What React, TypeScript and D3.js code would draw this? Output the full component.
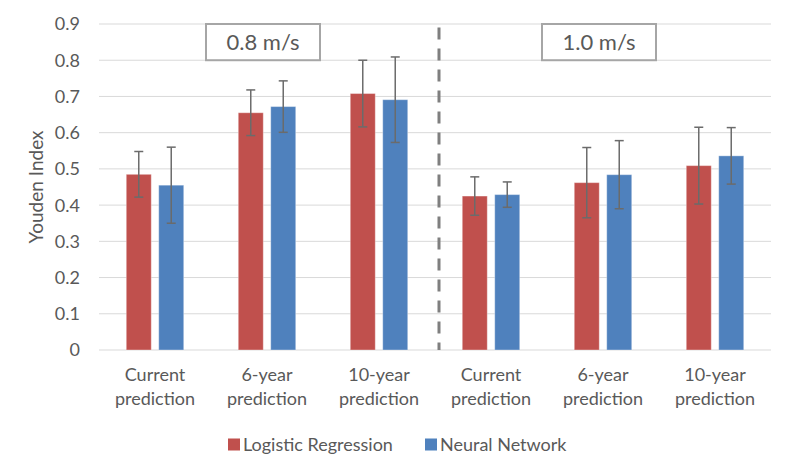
import * as d3 from "d3";
import { useEffect, useRef } from "react";

const categories = [
  "Current prediction",
  "6-year prediction",
  "10-year prediction",
  "Current prediction",
  "6-year prediction",
  "10-year prediction",
];
const speedGroups = ["0.8 m/s", "1.0 m/s"];
const seriesNames = ["Logistic Regression", "Neural Network"];
const logistic = [0.485, 0.655, 0.708, 0.425, 0.462, 0.509];
const logisticErr = [0.063, 0.063, 0.092, 0.053, 0.097, 0.106];
const neural = [0.455, 0.672, 0.691, 0.429, 0.484, 0.536];
const neuralErr = [0.105, 0.071, 0.118, 0.035, 0.094, 0.078];
const yTicks = [0, 0.1, 0.2, 0.3, 0.4, 0.5, 0.6, 0.7, 0.8, 0.9];

const colors = ["#C0504D", "#4F81BD"];
const textColor = "#595959";
const font = "Lato, 'Open Sans', sans-serif";

type Bar = { cat: number; series: number; value: number; err: number };

const App = () => {
  const ref = useRef<SVGSVGElement | null>(null);

  useEffect(() => {
    if (!ref.current) return;
    const svg = d3.select(ref.current);
    svg.selectAll("*").remove();

    const width = 795;
    const height = 474;
    const left = 99;
    const right = 771;

    const idx = categories.map((_, i) => String(i));
    const x = d3.scaleBand<string>().domain(idx).range([left, right]);
    const inner = d3
      .scaleBand<string>()
      .domain(seriesNames)
      .range([0, x.bandwidth()])
      .paddingInner(0.23)
      .paddingOuter(0.84);
    const y = d3.scaleLinear().domain([0, 0.9]).range([350, 24]);

    svg.attr("width", width).attr("height", height);

    // gridlines
    svg
      .append("g")
      .selectAll("line")
      .data(yTicks)
      .join("line")
      .attr("x1", left)
      .attr("x2", right)
      .attr("y1", (d) => y(d))
      .attr("y2", (d) => y(d))
      .attr("stroke", "#d9d9d9")
      .attr("stroke-width", 1);

    // y tick labels
    svg
      .append("g")
      .selectAll("text")
      .data(yTicks)
      .join("text")
      .attr("x", 80)
      .attr("y", (d) => y(d))
      .attr("dy", "0.36em")
      .attr("text-anchor", "end")
      .attr("font-family", font)
      .attr("font-size", 18)
      .attr("fill", textColor)
      .text((d) => String(+d.toFixed(1)));

    svg
      .append("text")
      .attr("transform", `translate(43,${(y(0) + y(0.9)) / 2}) rotate(-90)`)
      .attr("text-anchor", "middle")
      .attr("font-family", font)
      .attr("font-size", 19)
      .attr("fill", textColor)
      .text("Youden Index");

    const bars: Bar[] = [];
    categories.forEach((_, i) => {
      bars.push({ cat: i, series: 0, value: logistic[i], err: logisticErr[i] });
      bars.push({ cat: i, series: 1, value: neural[i], err: neuralErr[i] });
    });
    const bx = (d: Bar) => x(String(d.cat))! + inner(seriesNames[d.series])!;

    svg
      .append("g")
      .selectAll("rect")
      .data(bars)
      .join("rect")
      .attr("x", bx)
      .attr("y", (d) => y(d.value))
      .attr("width", inner.bandwidth())
      .attr("height", (d) => y(0) - y(d.value))
      .attr("fill", (d) => colors[d.series])
      .attr("stroke", "rgba(255,255,255,0.35)")
      .attr("stroke-width", 1);

    // error bars
    const eb = svg.append("g").attr("stroke", "#6b6b6b").attr("stroke-width", 1.5);
    const cx = (d: Bar) => bx(d) + inner.bandwidth() / 2;
    eb.selectAll("line.v")
      .data(bars)
      .join("line")
      .attr("class", "v")
      .attr("x1", cx)
      .attr("x2", cx)
      .attr("y1", (d) => y(d.value + d.err))
      .attr("y2", (d) => y(d.value - d.err));
    eb.selectAll("line.t")
      .data(bars.flatMap((d) => [{ d, v: d.value + d.err }, { d, v: d.value - d.err }]))
      .join("line")
      .attr("class", "t")
      .attr("x1", (e) => cx(e.d) - 4.5)
      .attr("x2", (e) => cx(e.d) + 4.5)
      .attr("y1", (e) => y(e.v))
      .attr("y2", (e) => y(e.v));

    // category labels, two lines
    const lbl = svg
      .append("g")
      .selectAll("text")
      .data(categories)
      .join("text")
      .attr("text-anchor", "middle")
      .attr("font-family", font)
      .attr("font-size", 18)
      .attr("fill", textColor);
    lbl
      .append("tspan")
      .attr("x", (_, i) => x(String(i))! + x.bandwidth() / 2)
      .attr("y", 381)
      .text((d) => d.split(" ")[0]);
    lbl
      .append("tspan")
      .attr("x", (_, i) => x(String(i))! + x.bandwidth() / 2)
      .attr("y", 405)
      .text((d) => d.split(" ")[1]);

    // separator between the two speeds
    const sepX = x("3")! + 4;
    svg
      .append("line")
      .attr("x1", sepX)
      .attr("x2", sepX)
      .attr("y1", y(0.89))
      .attr("y2", y(0))
      .attr("stroke", "#7f7f7f")
      .attr("stroke-width", 3)
      .attr("stroke-dasharray", "12,9");

    // speed boxes
    speedGroups.forEach((g, gi) => {
      const c = x(String(gi * 3 + 1))! + x.bandwidth() / 2 - 4;
      const w = 114;
      svg
        .append("rect")
        .attr("x", c - w / 2)
        .attr("y", y(0.9))
        .attr("width", w)
        .attr("height", y(0.8) - y(0.9))
        .attr("fill", "white")
        .attr("stroke", "#a6a6a6")
        .attr("stroke-width", 2);
      svg
        .append("text")
        .attr("x", c)
        .attr("y", (y(0.9) + y(0.8)) / 2)
        .attr("dy", "0.36em")
        .attr("text-anchor", "middle")
        .attr("font-family", font)
        .attr("font-size", 22)
        .attr("fill", textColor)
        .text(g);
    });

    // legend
    const legendX = [228, 425];
    const leg = svg
      .append("g")
      .selectAll("g")
      .data(seriesNames)
      .join("g")
      .attr("transform", (_, i) => `translate(${legendX[i]},444.5)`);
    leg
      .append("rect")
      .attr("x", 0)
      .attr("y", -6)
      .attr("width", 12)
      .attr("height", 12)
      .attr("fill", (_, i) => colors[i]);
    leg
      .append("text")
      .attr("x", 15)
      .attr("dy", "0.36em")
      .attr("font-family", font)
      .attr("font-size", 18)
      .attr("fill", textColor)
      .text((d) => d);
  }, []);

  return <svg ref={ref} style={{ position: "absolute", left: 0, top: 0 }}></svg>;
};

export default App;
